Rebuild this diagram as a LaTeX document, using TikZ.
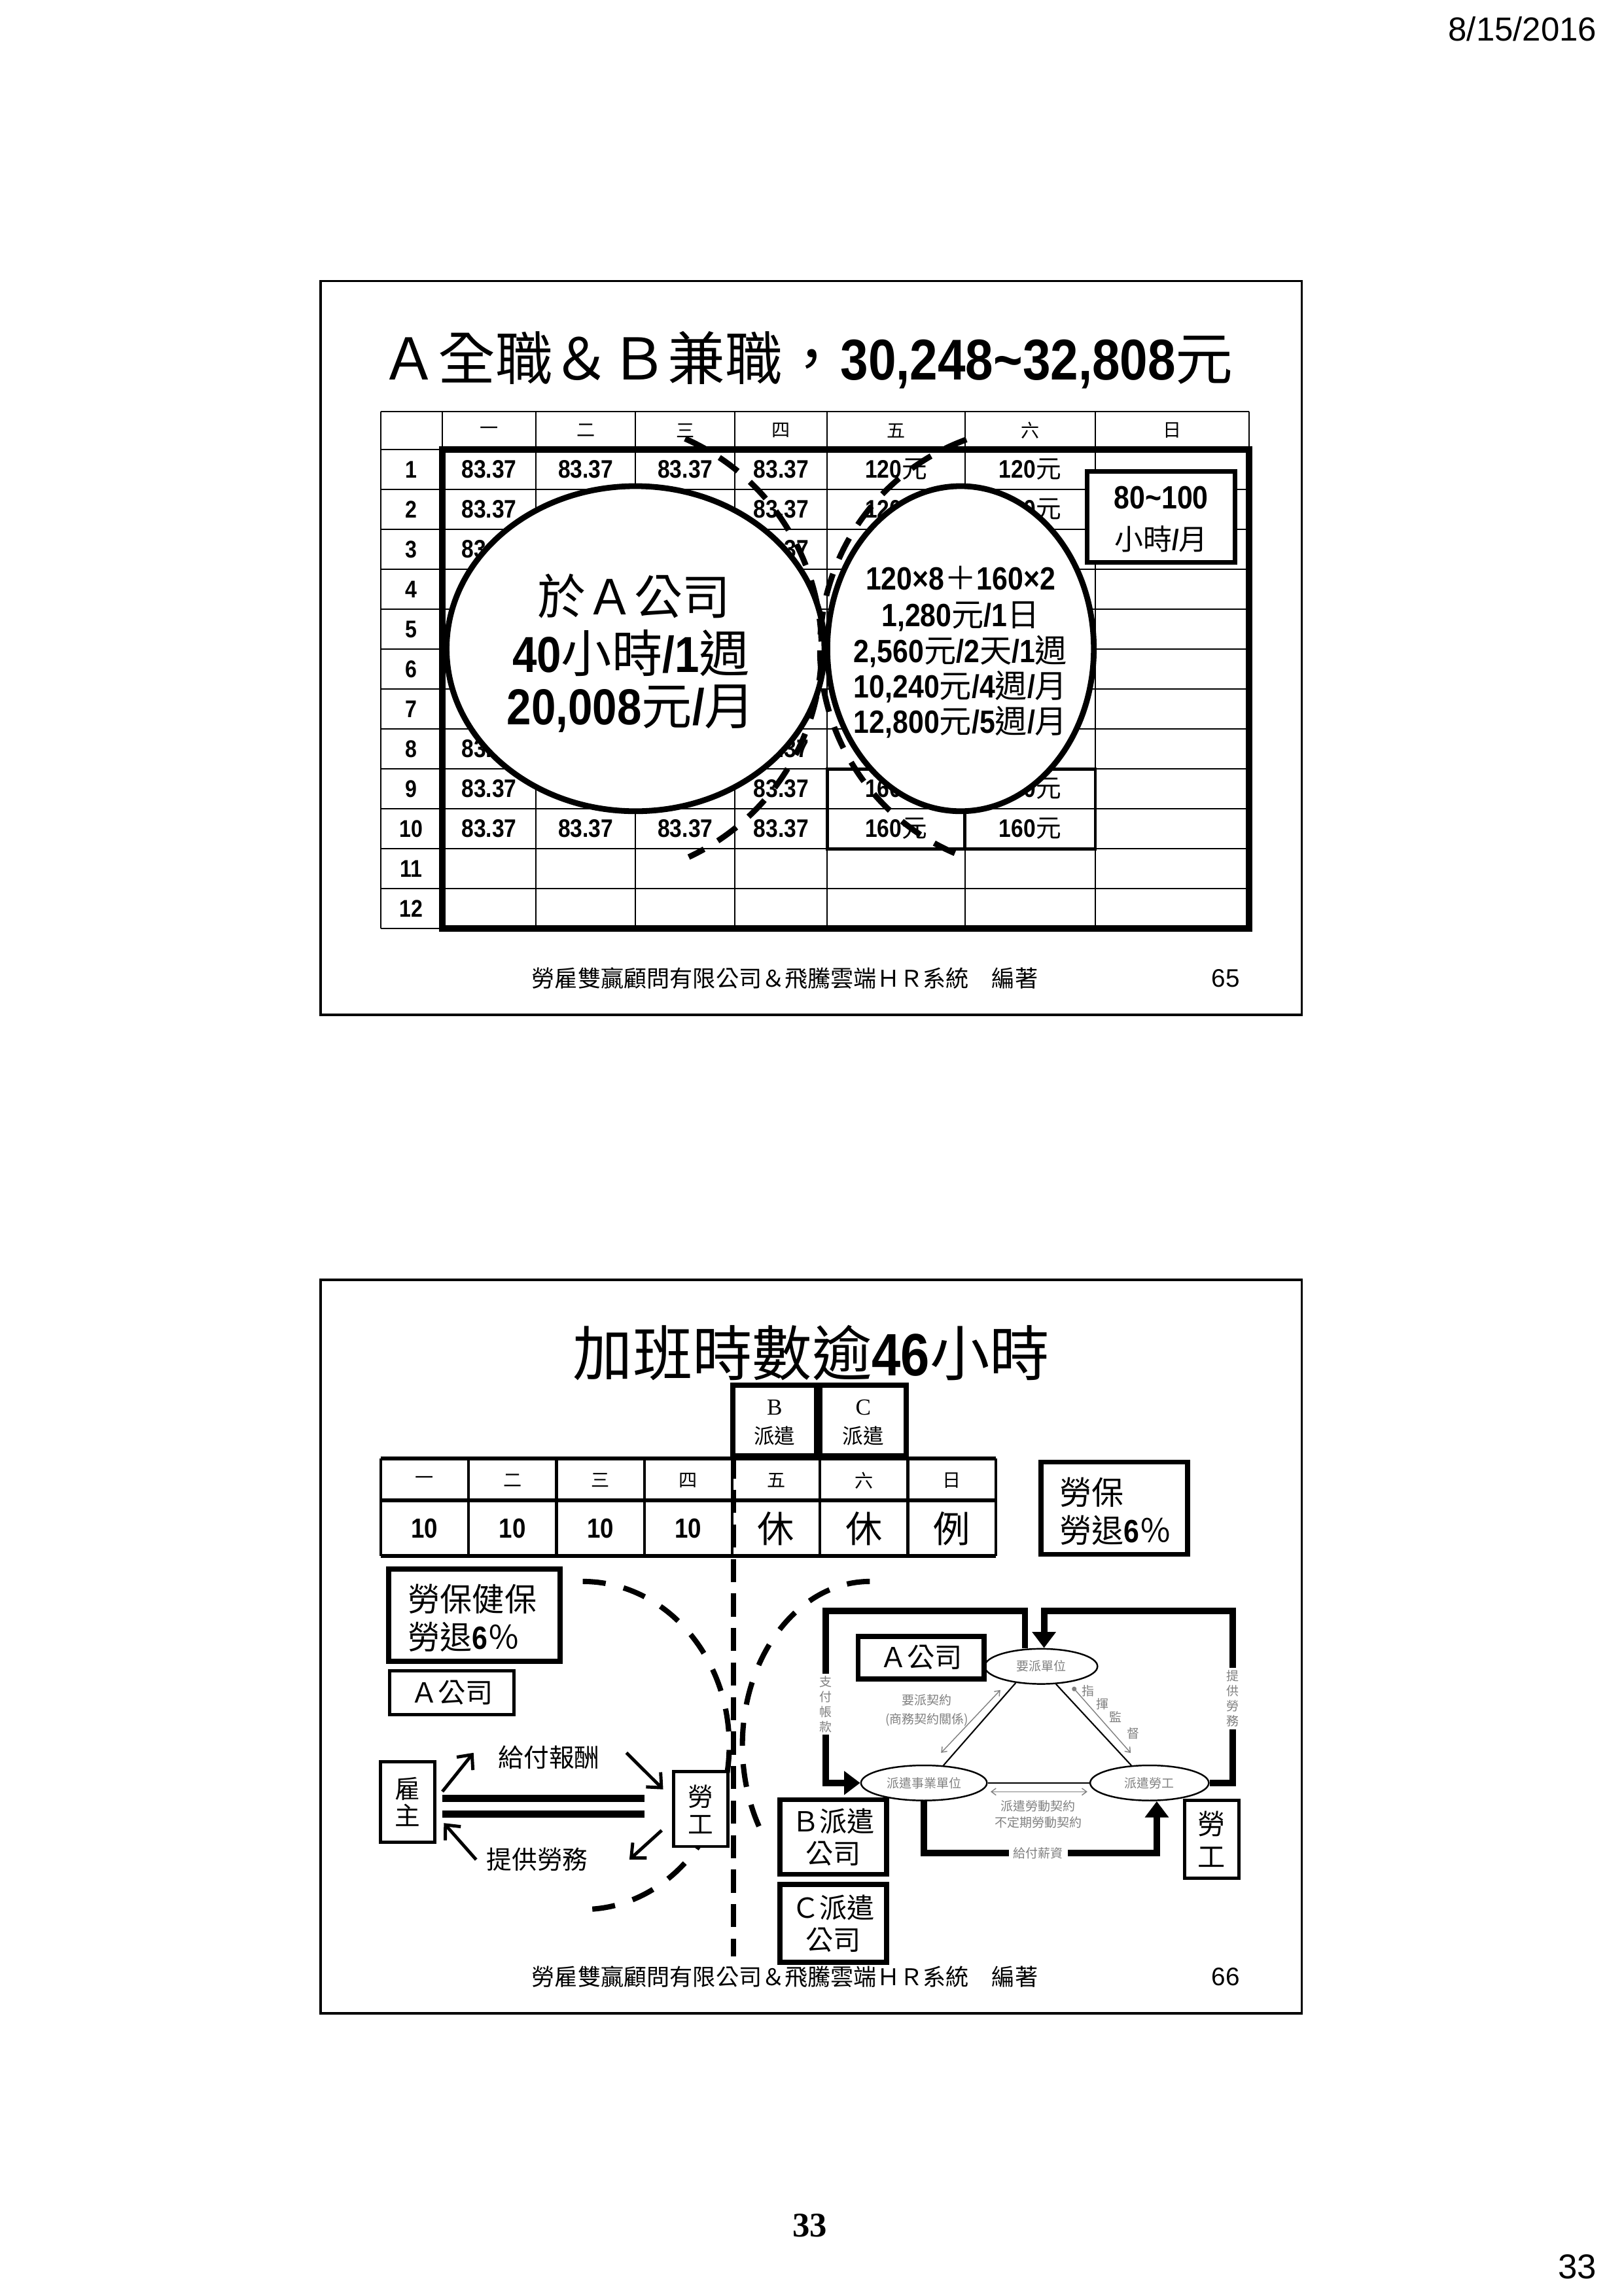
\documentclass[tikz,border=0pt]{standalone}
\usepackage{fontspec}
\setmainfont{Noto Sans CJK TC}
\newfontfamily\arialfont{Liberation Sans}
\newfontfamily\narrowfont[FakeStretch=0.87]{Liberation Sans}
\newfontfamily\timesfont{Liberation Serif}
\usetikzlibrary{arrows.meta,shapes.geometric,positioning}

\newdimen\pxu
\pxu=0.02237cm
\newcommand{\fs}[2]{\fontsize{#1}{#2}\selectfont}
\newcommand{\nb}[1]{{\narrowfont\bfseries #1}}

\tikzset{
  tabline/.style={line width=0.6pt},
  heavyline/.style={line width=3pt},
  ring/.style={line width=2.5pt, fill=white},
  arcdash/.style={line width=2.5pt, dash pattern=on 10pt off 7pt},
  arcdashb/.style={line width=2.3pt, dash pattern=on 10pt off 8pt},
  plainbox/.style={draw, line width=1.4pt, fill=white, inner sep=0pt},
  boldbox/.style={draw, line width=2.2pt, fill=white, inner sep=0pt},
  numcell/.style={font=\fs{11}{13}},
  unitnode/.style={draw, ellipse, line width=0.7pt, fill=white, inner sep=0pt, minimum height=24*\pxu, font=\fs{5.4}{6}, text=gray},
  graytext/.style={font=\fs{5.4}{6.5}, text=gray, align=center, inner sep=1pt},
  tie/.style={line width=0.6pt},
  twoway/.style={gray, line width=0.4pt, {Straight Barb[length=2pt,width=3pt]}-{Straight Barb[length=2pt,width=3pt]}},
  frameline/.style={line width=2.8pt, -{Triangle[length=7pt,width=10pt]}},
  barb/.style={line width=1.4pt, -{Straight Barb[length=5pt,width=9pt]}}
}

\begin{document}
\begin{tikzpicture}[x=0.02237cm, y=-0.02237cm]
\useasboundingbox (0,0) rectangle (1109,1568);
\fill[white] (0,0) rectangle (1109,1568);
\node[anchor=east, font=\fs{14.5}{17}\arialfont] (date) at (1096,20) {8/15/2016};

\draw[line width=1pt] (219,192) rectangle (889,693);
\node[font=\fs{25}{29}] (title1) at (551,246) {Ａ全職＆Ｂ兼職，\nb{30,248\textasciitilde32,808}元};

\draw[tabline] (260,281) -- (853,281);
\foreach \r in {0,...,12}
  \draw[tabline] (260,{307+27.25*\r}) -- (853,{307+27.25*\r});
\foreach \x in {260,302,366,434,502,565,659,748,853}
  \draw[tabline] (\x,281) -- (\x,634);
\foreach \x/\d [count=\i] in {334/一,400/二,468/三,533.5/四,612/五,703.5/六,800.5/日}
  \node[font=\fs{8}{9}] (day\i) at (\x,294) {\d};
\foreach \r in {1,...,12}
  \node[font=\fs{10.5}{12}\narrowfont\bfseries] (row\r) at (281,{293.4+27.25*\r}) {\r};
\foreach \r in {1,10}
  \foreach \x [count=\c] in {334,400,468,533.5}
    \node[numcell] (c\r-\c) at (\x,{293.4+27.25*\r}) {\nb{83.37}};
\foreach \r in {2,3,8,9}
  \foreach \x/\c in {334/1,533.5/4}
    \node[numcell] (c\r-\c) at (\x,{293.4+27.25*\r}) {\nb{83.37}};
\foreach \r in {1,2}
  \foreach \x [count=\c from 5] in {612,703.5}
    \node[numcell] (c\r-\c) at (\x,{293.4+27.25*\r}) {\nb{120}元};
\foreach \r in {9,10}
  \foreach \x [count=\c from 5] in {612,703.5}
    \node[numcell] (c\r-\c) at (\x,{293.4+27.25*\r}) {\nb{160}元};
\draw[heavyline] (302,307) rectangle (853,634);
\draw[line width=1.3pt] (565,525.25) rectangle (748,579.75) (659,525.25) -- (659,579.75);

\node[boldbox, line width=2pt, minimum width=101*\pxu, minimum height=62*\pxu] (hours) at (793,353) {};
\node[font=\fs{14}{16}] (hoursa) at (793,340) {\nb{80\textasciitilde100}};
\node[font=\fs{12.5}{15}] (hoursb) at (793,368) {小時\nb{/}月};

\draw[ring] (434,443) ellipse [x radius=129, y radius=111];
\draw[ring] (656,443) ellipse [x radius=91, y radius=111];
\node[font=\fs{21}{24}] (inA) at (433,407) {於Ａ公司};
\node[font=\fs{22}{24}] (perweek) at (431,446) {\nb{40}小時\nb{/1}週};
\node[font=\fs{22}{24}] (permonth) at (431,484) {\nb{20,008}元\nb{/}月};
\node[font=\fs{14}{16}] (calc1) at (656,395) {\nb{120×8}＋\nb{160×2}};
\node[font=\fs{14}{16}] (calc2) at (656,421) {\nb{1,280}元\nb{/1}日};
\node[font=\fs{14}{16}] (calc3) at (656,445) {\nb{2,560}元\nb{/2}天\nb{/1}週};
\node[font=\fs{14}{16}] (calc4) at (656,469) {\nb{10,240}元\nb{/4}週\nb{/}月};
\node[font=\fs{14}{16}] (calc5) at (656,493) {\nb{12,800}元\nb{/5}週\nb{/}月};

\draw[arcdash] (404,443) ++(-66:157) arc[start angle=-66, end angle=65, radius=157];
\draw[arcdash] (712,443) ++(250:152) arc[start angle=250, end angle=111, radius=152];

\node[font=\fs{10}{12}] (credit1) at (536,668) {勞雇雙贏顧問有限公司＆飛騰雲端ＨＲ系統　編著};
\node[font=\fs{11}{13}\arialfont] (page65) at (837,668) {65};

\draw[line width=1pt] (219,874) rectangle (889,1375);
\node[font=\fs{26}{30}] (title2) at (554,924) {加班時數逾\nb{46}小時};

\node[boldbox, minimum width=57*\pxu, minimum height=48*\pxu] (dispB) at (529,970) {};
\node[boldbox, minimum width=59*\pxu, minimum height=48*\pxu] (dispC) at (589.5,970) {};
\node[font=\fs{10}{12}\timesfont] (dispBa) at (529,961) {B};
\node[font=\fs{9}{11}] (dispBb) at (529,980.5) {派遣};
\node[font=\fs{10}{12}\timesfont] (dispCa) at (589.5,961) {C};
\node[font=\fs{9}{11}] (dispCb) at (589.5,980.5) {派遣};

\foreach \y in {996,1024.5,1062.5}
  \draw[line width=1.6pt] (260,\y) -- (680,\y);
\foreach \x in {260,320,380,440,500,560,620,680}
  \draw[line width=1.2pt] (\x,996) -- (\x,1062.5);
\foreach \x/\d [count=\i] in {290/一,350/二,410/三,470/四,530/五,590/六,650/日}
  \node[font=\fs{8}{9}] (wd\i) at (\x,1011) {\d};
\foreach \x [count=\i] in {290,350,410,470}
  \node[font=\fs{12}{14}\narrowfont\bfseries] (hr\i) at (\x,1044) {10};
\foreach \x/\d [count=\i from 5] in {530/休,590/休,650/例}
  \node[font=\fs{16}{18}] (hr\i) at (\x,1044) {\d};

\node[boldbox, minimum width=100*\pxu, minimum height=63*\pxu] (ins) at (761,1030) {};
\node[anchor=west, font=\fs{14}{16}] (insa) at (718,1019) {勞保};
\node[anchor=west, font=\fs{14}{16}] (insb) at (718,1045) {勞退\nb{6}％};

\draw[arcdashb] (398,1192) ++(-90:100 and 112) arc[start angle=-90, end angle=90, x radius=100, y radius=112];
\draw[arcdashb] (594,1192) ++(-90:87 and 112) arc[start angle=-90, end angle=-214, x radius=87, y radius=112];
\draw[line width=2.2pt, dash pattern=on 10pt off 5pt] (501,994) -- (501,1336);

\node[boldbox, minimum width=117*\pxu, minimum height=63*\pxu] (ins2) at (324,1103) {};
\node[anchor=west, font=\fs{14}{16}] (ins2a) at (273,1092) {勞保健保};
\node[anchor=west, font=\fs{14}{16}] (ins2b) at (273,1118) {勞退\nb{6}％};
\node[plainbox, minimum width=85*\pxu, minimum height=30*\pxu, font=\fs{12}{14}] (compA) at (308.5,1156) {Ａ公司};

\node[plainbox, minimum width=37*\pxu, minimum height=55*\pxu, align=center, font=\fs{11}{11.5}] (boss) at (278.5,1230.5) {雇\\主};
\node[plainbox, minimum width=37*\pxu, minimum height=51*\pxu, align=center, font=\fs{11}{12}] (worker) at (478.5,1235.5) {勞\\工};
\draw[line width=3.2pt, shorten <=0.09cm, shorten >=0.42cm] (boss.east |- 0,1228) -- (worker.west |- 0,1228);
\draw[line width=3.2pt, shorten <=0.09cm, shorten >=0.42cm] (boss.east |- 0,1239) -- (worker.west |- 0,1239);
\node[font=\fs{11}{13}] (pay) at (375,1200) {給付報酬};
\node[font=\fs{11}{13}] (serve) at (367,1270) {提供勞務};
\draw[barb] ([shift={(4,-7)}]boss.east) -- ([shift={(-11.5,-3)}]pay.west);
\draw[barb] ([shift={(12.7,-3)}]pay.east) -- ([shift={(-6,-13.5)}]worker.west);
\draw[barb] ([shift={(-7,14.5)}]worker.west) -- ([shift={(22.7,0)}]serve.east);
\draw[barb] ([shift={(-1.7,0)}]serve.west) -- ([shift={(5,14.5)}]boss.east);

\node[boldbox, minimum width=73*\pxu, minimum height=51*\pxu, align=center, font=\fs{12}{14}] (compB) at (569,1254.5) {Ｂ派遣\\公司};
\node[boldbox, minimum width=73*\pxu, minimum height=53*\pxu, align=center, font=\fs{12}{14}] (compC) at (569,1313.5) {Ｃ派遣\\公司};

\node[unitnode, minimum width=77*\pxu] (req) at (711,1138) {要派單位};
\node[unitnode, minimum width=86*\pxu] (agency) at (631,1217.6) {派遣事業單位};
\node[unitnode, minimum width=81*\pxu] (dispw) at (785,1217.6) {派遣勞工};
\draw[tie] (req.213) -- (agency.42);
\draw[tie] (req.310) -- (dispw.136);
\draw[tie] (agency) -- (dispw);
\draw[twoway] ([shift={(-10.5,4.9)}]req.213) -- ([shift={(-1.6,-8.6)}]agency.42);
\draw[gray, line width=0.4pt, {Circle[length=2pt]}-{Straight Barb[length=2pt,width=3pt]}] ([shift={(11.4,2.1)}]req.310) -- ([shift={(-0.4,-8.5)}]dispw.136);
\draw[twoway] ([shift={(2,6)}]agency.east) -- ([shift={(-1.4,6)}]dispw.west);
\node[graytext, font=\fs{5.4}{8.3}] (reqdeal) at (633,1168) {要派契約\\(商務契約關係)};
\node[graytext, font=\fs{5.4}{7}] (dispdeal) at (709,1239) {派遣勞動契約\\不定期勞動契約};
\foreach \x/\y/\t [count=\i] in {743/1154.7/指,753/1163.7/揮,762/1172.7/監,774/1183.7/督}
  \node[graytext] (cmd\i) at (\x,\y) {\t};

\draw[frameline] (req.north -| 700,0) |- (564,1100) |- (agency.west);
\draw[frameline] (dispw.east) -| (842,1100) -| (req.north -| 713,0);
\draw[frameline] (agency.south) |- (790,1265.5) -- (dispw.south -| 790,0);
\node[graytext, fill=white] (payacc) at (564,1164) {支\\付\\帳\\款};
\node[graytext, fill=white] (serveacc) at (842,1160) {提\\供\\勞\\務};
\node[graytext, fill=white, inner sep=2pt] (wage) at (709,1265.5) {給付薪資};

\node[boldbox, minimum width=86*\pxu, minimum height=29*\pxu, font=\fs{12}{14}] (compA2) at (629,1132) {Ａ公司};
\node[plainbox, minimum width=37*\pxu, minimum height=53*\pxu, align=center, font=\fs{12}{14}] (worker2) at (827.5,1256) {勞\\工};

\node[font=\fs{10}{12}] (credit2) at (536,1350) {勞雇雙贏顧問有限公司＆飛騰雲端ＨＲ系統　編著};
\node[font=\fs{11}{13}\arialfont] (page66) at (837,1350) {66};

\node[font=\fs{15}{17}\timesfont\bfseries] (pagemid) at (553,1520) {33};
\node[anchor=east, font=\fs{15}{17}\arialfont] (pagecorner) at (1096,1548) {33};
\end{tikzpicture}
\end{document}
